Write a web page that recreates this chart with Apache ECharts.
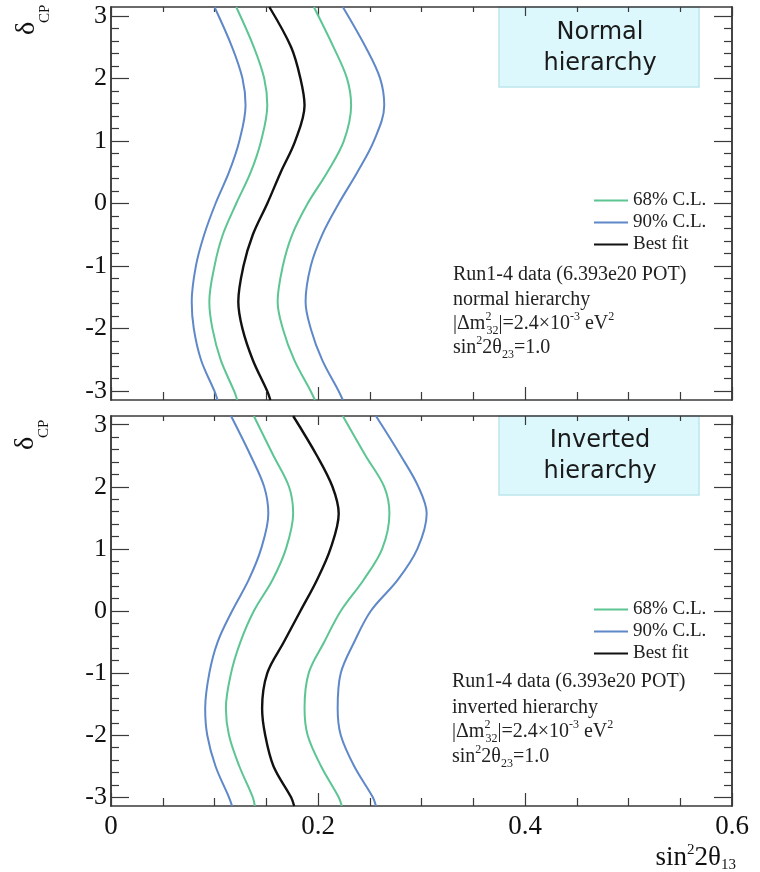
<!DOCTYPE html>
<html>
<head>
<meta charset="utf-8">
<title>delta_CP vs sin^2 2theta13</title>
<script src="https://cdn.jsdelivr.net/npm/echarts@6/dist/echarts.min.js"></script>
<style>
html,body{margin:0;padding:0;background:#fff;}
#chart{width:760px;height:872px;}
</style>
</head>
<body>
<div id="chart"></div>
<script>
// δCP sample points shared by every contour (top of the frame down to the bottom)
var deltaCP = [3.14, 2.5, 2, 1.57, 1, 0.5, 0, -0.5, -1, -1.57, -2, -2.5, -3, -3.14];

// normal hierarchy, sin²2θ13
var nh90Left  = [0.100, 0.117, 0.127, 0.130, 0.124, 0.114, 0.101, 0.090, 0.082, 0.078, 0.080, 0.087, 0.100, 0.103];
var nh68Left  = [0.121, 0.138, 0.148, 0.151, 0.145, 0.135, 0.121, 0.108, 0.100, 0.095, 0.098, 0.106, 0.119, 0.122];
var nhBest    = [0.153, 0.174, 0.183, 0.187, 0.178, 0.164, 0.151, 0.137, 0.128, 0.123, 0.127, 0.137, 0.151, 0.154];
var nh68Right = [0.196, 0.215, 0.228, 0.232, 0.225, 0.209, 0.190, 0.175, 0.166, 0.161, 0.166, 0.177, 0.193, 0.197];
var nh90Right = [0.224, 0.246, 0.260, 0.264, 0.254, 0.238, 0.220, 0.204, 0.193, 0.188, 0.193, 0.204, 0.220, 0.224];

// inverted hierarchy
var ih90Left  = [0.116, 0.135, 0.148, 0.152, 0.145, 0.133, 0.117, 0.103, 0.095, 0.091, 0.093, 0.101, 0.114, 0.117];
var ih68Left  = [0.138, 0.157, 0.172, 0.176, 0.169, 0.156, 0.138, 0.125, 0.116, 0.111, 0.114, 0.124, 0.137, 0.139];
var ihBest    = [0.176, 0.199, 0.214, 0.220, 0.212, 0.199, 0.183, 0.167, 0.151, 0.146, 0.149, 0.157, 0.174, 0.177];
var ih68Right = [0.224, 0.246, 0.264, 0.269, 0.262, 0.244, 0.222, 0.206, 0.191, 0.187, 0.190, 0.203, 0.220, 0.223];
var ih90Right = [0.256, 0.280, 0.297, 0.305, 0.296, 0.277, 0.251, 0.235, 0.222, 0.219, 0.222, 0.235, 0.253, 0.256];

var legendNames = ['68% C.L.', '90% C.L.', 'Best fit'];
var yTicks = [-3, -2, -1, 0, 1, 2, 3];
var yMinorTicks = [];
for (var t = -30; t <= 30; t += 2) {
    if (t % 10 !== 0) yMinorTicks.push(t / 10);
}

var GREEN = '#5cc592', BLUE = '#5f88c9', BLACK = '#111';
var AXIS = '#3a3a3a';
var SERIF = '"Liberation Serif", "DejaVu Serif", serif';

function curve(name, xs, color, width, xIdx, yIdx) {
    return {
        name: name, type: 'line',
        xAxisIndex: xIdx, yAxisIndex: yIdx,
        data: xs.map(function (x, i) { return [x, deltaCP[i]]; }),
        smooth: 0.35, showSymbol: false, symbol: 'none', silent: true,
        lineStyle: { color: color, width: width },
        itemStyle: { color: color }
    };
}

function xAxisFor(grid, pos, showLabel) {
    var bottom = pos === 'bottom';
    return {
        type: 'value', gridIndex: grid, position: pos,
        min: 0, max: 0.6, interval: 0.2,
        axisLine: { show: true, onZero: false, lineStyle: { color: AXIS, width: 1.5 } },
        axisTick: { show: true, inside: true, length: bottom ? 13 : 9, lineStyle: { color: AXIS, width: 1.2 } },
        minorTick: { show: true, splitNumber: 4, length: bottom ? 8 : 5, lineStyle: { color: AXIS, width: 1.2 } },
        axisLabel: { show: showLabel, fontFamily: SERIF, fontSize: 27, color: '#111', margin: 7 },
        splitLine: { show: false }
    };
}

function yAxisFor(grid, pos, minor, showLabel) {
    return {
        type: 'value', gridIndex: grid, position: pos,
        min: -3.14, max: 3.14,
        axisLine: { show: true, onZero: false, lineStyle: { color: AXIS, width: 1.5 } },
        axisTick: { show: true, inside: true, length: minor ? 8 : 18,
            customValues: minor ? yMinorTicks : yTicks,
            lineStyle: { color: AXIS, width: 1.2 } },
        axisLabel: { show: showLabel, customValues: yTicks, fontFamily: SERIF, fontSize: 26, color: '#111', margin: 4 },
        splitLine: { show: false }
    };
}

function legendAt(top) {
    return {
        orient: 'vertical', left: 589, top: top,
        data: legendNames, icon: 'rect', itemWidth: 34, itemHeight: 2, itemGap: 3,
        selectedMode: false,
        textStyle: { fontFamily: SERIF, fontSize: 19, color: '#222', lineHeight: 16 }
    };
}

var supSub = {
    p: { fontFamily: SERIF, fontSize: 12, lineHeight: 12, verticalAlign: 'top', width: 1, color: '#222' },
    q: { fontFamily: SERIF, fontSize: 12, lineHeight: 12, verticalAlign: 'top', color: '#222' },
    b: { fontFamily: SERIF, fontSize: 12, lineHeight: 12, verticalAlign: 'bottom', color: '#222' }
};

function noteLines(x, ys, hierarchyText) {
    var lines = [
        'Run1-4 data (6.393e20 POT)',
        hierarchyText,
        '|Δm{p|2}{b|32}|=2.4×10{q|-3} eV{q|2}',
        'sin{q|2}2θ{b|23}=1.0'
    ];
    return lines.map(function (txt, i) {
        return {
            type: 'text', x: x, y: ys[i], silent: true,
            style: { text: txt, rich: supSub, fontFamily: SERIF, fontSize: 20, lineHeight: 26,
                fill: '#222', align: 'left', verticalAlign: 'middle' }
        };
    });
}

function titleBox(y, h, label) {
    return [
        { type: 'rect', shape: { x: 499, y: y, width: 200, height: h }, silent: true,
          style: { fill: '#dcf8fc', stroke: '#bde6ed', lineWidth: 1.5 } },
        { type: 'text', x: 600, y: y + h / 2 + 1, silent: true,
          style: { text: label, fontFamily: '"DejaVu Sans", sans-serif', fontSize: 24, lineHeight: 31,
              fill: '#1a1a1a', align: 'center', verticalAlign: 'middle' } }
    ];
}

function deltaName(x, y) {
    return [
        { type: 'text', x: x, y: y, rotation: Math.PI / 2, silent: true,
          style: { text: 'δ', fontFamily: SERIF, fontSize: 28, fill: '#111', align: 'left', verticalAlign: 'middle' } },
        { type: 'text', x: x + 18, y: y - 12, rotation: Math.PI / 2, silent: true,
          style: { text: 'CP', fontFamily: SERIF, fontSize: 15, fill: '#111', align: 'left', verticalAlign: 'middle' } }
    ];
}

var chart = echarts.init(document.getElementById('chart'), null, { renderer: 'canvas' });

var graphics = []
    .concat(titleBox(7, 80, 'Normal\nhierarchy'))
    .concat(titleBox(416, 79, 'Inverted\nhierarchy'))
    .concat(noteLines(453, [275, 300, 324, 348], 'normal hierarchy'))
    .concat(noteLines(452, [682, 708, 732, 757], 'inverted hierarchy'))
    .concat(deltaName(27, 35))
    .concat(deltaName(26, 450))
    .concat([{
        type: 'text', x: 736, y: 858, silent: true,
        style: { text: 'sin{q|2}2θ{b|13}', fontFamily: SERIF, fontSize: 27, lineHeight: 30, fill: '#111',
            align: 'right', verticalAlign: 'middle',
            rich: {
                q: { fontFamily: SERIF, fontSize: 15, lineHeight: 14, verticalAlign: 'top', fill: '#111' },
                b: { fontFamily: SERIF, fontSize: 15, lineHeight: 14, verticalAlign: 'bottom', fill: '#111' }
            } }
    }]);

var option = {
    backgroundColor: '#fff',
    animation: false,
    grid: [
        { left: 111, top: 7, width: 621, height: 393, outerBoundsMode: 'none' },
        { left: 111, top: 416, width: 621, height: 390, outerBoundsMode: 'none' }
    ],
    xAxis: [
        xAxisFor(0, 'bottom', false),
        xAxisFor(0, 'top', false),
        xAxisFor(1, 'bottom', true),
        xAxisFor(1, 'top', false)
    ],
    yAxis: [
        yAxisFor(0, 'left', false, true),
        yAxisFor(0, 'left', true, false),
        yAxisFor(0, 'right', false, false),
        yAxisFor(0, 'right', true, false),
        yAxisFor(1, 'left', false, true),
        yAxisFor(1, 'left', true, false),
        yAxisFor(1, 'right', false, false),
        yAxisFor(1, 'right', true, false)
    ],
    legend: [legendAt(186), legendAt(595)],
    series: [
        curve('90% C.L.', nh90Left, BLUE, 2, 0, 0),
        curve('68% C.L.', nh68Left, GREEN, 2, 0, 0),
        curve('Best fit', nhBest, BLACK, 2.4, 0, 0),
        curve('68% C.L.', nh68Right, GREEN, 2, 0, 0),
        curve('90% C.L.', nh90Right, BLUE, 2, 0, 0),
        curve('90% C.L.', ih90Left, BLUE, 2, 2, 4),
        curve('68% C.L.', ih68Left, GREEN, 2, 2, 4),
        curve('Best fit', ihBest, BLACK, 2.4, 2, 4),
        curve('68% C.L.', ih68Right, GREEN, 2, 2, 4),
        curve('90% C.L.', ih90Right, BLUE, 2, 2, 4)
    ],
    graphic: graphics
};

chart.setOption(option);

window.onresize = function () {
    chart.resize();
};
</script>
</body>
</html>
